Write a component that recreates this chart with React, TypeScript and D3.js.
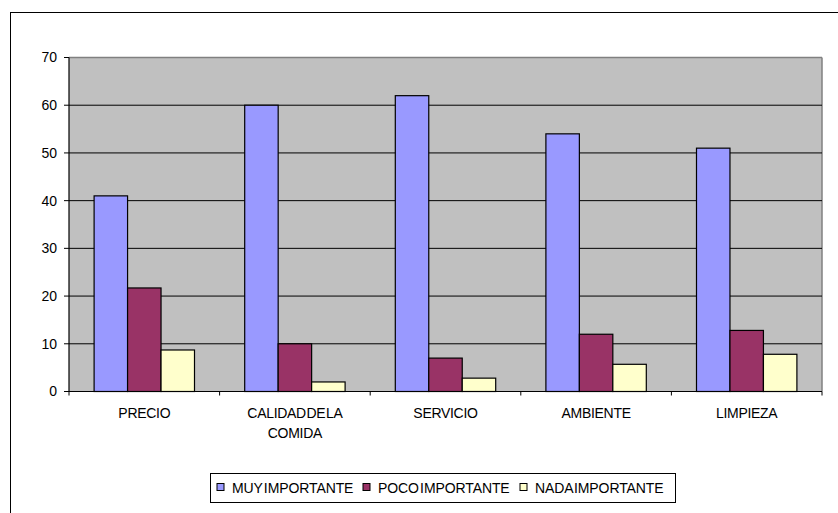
import React from "react";
import * as d3 from "d3";

const categories: string[][] = [
  ["PRECIO"],
  ["CALIDAD DE LA", "COMIDA"],
  ["SERVICIO"],
  ["AMBIENTE"],
  ["LIMPIEZA"],
];
const seriesNames = ["MUY IMPORTANTE", "POCO IMPORTANTE", "NADA IMPORTANTE"];
const muyImportante = [41, 60, 62, 54, 51];
const pocoImportante = [21.7, 10, 7, 12, 12.8];
const nadaImportante = [8.7, 2, 2.8, 5.7, 7.8];
const yTicks = [0, 10, 20, 30, 40, 50, 60, 70];
const colors = ["#9999FF", "#993366", "#FFFFCC"];

const seriesValues = [muyImportante, pocoImportante, nadaImportante];

export default function App() {
  const W = 838;
  const H = 513;
  const left = 69;
  const right = 822;
  const top = 57.5;
  const bottom = 391.5;
  const font = "Arial, 'Liberation Sans', sans-serif";

  const catIdx = categories.map((_, i) => String(i));
  const x = d3.scaleBand<string>().domain(catIdx).range([left, right]).paddingInner(0).paddingOuter(0);
  const xs = d3
    .scaleBand<string>()
    .domain(seriesNames)
    .range([0, x.bandwidth()])
    .paddingInner(0)
    .paddingOuter(0.75);
  const y = d3.scaleLinear().domain([0, 70]).range([bottom, top]);

  const legendX = [217, 363, 520];

  return (
    <svg
      width={W}
      height={H}
      style={{ position: "absolute", left: 0, top: 0, display: "block" }}
      fontFamily={font}
    >
      <rect x={0} y={0} width={W} height={H} fill="#fff" />
      <rect x={10.5} y={12.5} width={840} height={520} fill="none" stroke="#000" strokeWidth={1} />
      {/* plot area */}
      <rect x={left} y={top} width={right - left} height={bottom - top} fill="#C0C0C0" />
      <line x1={left} x2={right} y1={top} y2={top} stroke="#808080" strokeWidth={1.5} />
      <line x1={right} x2={right} y1={top} y2={bottom} stroke="#808080" strokeWidth={1.5} />
      {/* gridlines */}
      {yTicks.map((t) =>
        t === 0 || t === 70 ? null : (
          <line key={"g" + t} x1={left} x2={right} y1={y(t)} y2={y(t)} stroke="#000" strokeWidth={1} />
        )
      )}
      {/* y ticks & labels */}
      {yTicks.map((t) => (
        <g key={"t" + t}>
          <line x1={left - 5} x2={left} y1={y(t)} y2={y(t)} stroke="#000" strokeWidth={1} />
          <text x={57} y={y(t)} dy="0.35em" textAnchor="end" fontSize={14} fill="#000">
            {t}
          </text>
        </g>
      ))}
      {/* bars */}
      {categories.map((_, ci) =>
        seriesNames.map((s, si) => {
          const v = seriesValues[si][ci];
          const bx = (x(String(ci)) as number) + (xs(s) as number);
          return (
            <rect
              key={ci + "-" + si}
              x={bx}
              y={y(v)}
              width={xs.bandwidth()}
              height={y(0) - y(v)}
              fill={colors[si]}
              stroke="#000"
              strokeWidth={1.2}
            />
          );
        })
      )}
      {/* axes */}
      <line x1={left} x2={left} y1={top} y2={bottom} stroke="#000" strokeWidth={1.2} />
      <line x1={left} x2={right} y1={bottom} y2={bottom} stroke="#000" strokeWidth={1.2} />
      {catIdx.map((c, i) => (
        <line
          key={"xt" + i}
          x1={(x(c) as number)}
          x2={(x(c) as number)}
          y1={bottom}
          y2={bottom + 4}
          stroke="#000"
          strokeWidth={1}
        />
      ))}
      <line x1={right} x2={right} y1={bottom} y2={bottom + 4} stroke="#000" strokeWidth={1} />
      {/* category labels */}
      {categories.map((lines, i) => {
        const cx = (x(String(i)) as number) + x.bandwidth() / 2;
        return (
          <text key={"cl" + i} x={cx} y={417.5} textAnchor="middle" fontSize={14} fill="#000" wordSpacing={-3} letterSpacing={-0.3}>
            {lines.map((ln, li) => (
              <tspan key={li} x={cx} dy={li === 0 ? 0 : 20}>
                {ln}
              </tspan>
            ))}
          </text>
        );
      })}
      {/* legend */}
      <rect x={210.5} y={473.5} width={465} height={29} fill="#fff" stroke="#000" strokeWidth={1} />
      {seriesNames.map((s, i) => (
        <g key={"lg" + i}>
          <rect x={legendX[i]} y={483.5} width={7} height={7} fill={colors[i]} stroke="#000" strokeWidth={1} />
          <text x={legendX[i] + 15} y={492.5} fontSize={14} fill="#000" wordSpacing={-2.5} letterSpacing={-0.1}>
            {s}
          </text>
        </g>
      ))}
    </svg>
  );
}
